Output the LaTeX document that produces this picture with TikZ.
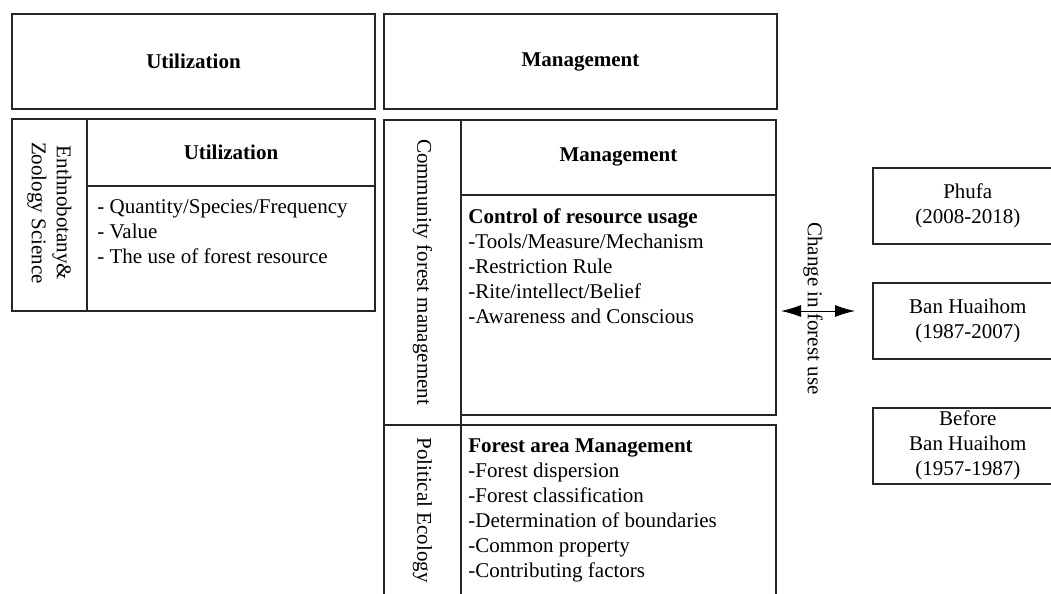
\documentclass[tikz,border=0pt]{standalone}
\usepackage{fontspec}
\setmainfont{Liberation Serif}
\usetikzlibrary{arrows.meta}

\begin{document}
\begin{tikzpicture}[x=0.5pt,y=-0.5pt,
    frame/.style={line width=0.8pt, draw=black!85},
    txt/.style={inner sep=0pt, font=\fontsize{10.5pt}{12.5pt}\selectfont},
    head/.style={txt, font=\fontsize{10.5pt}{12.5pt}\selectfont\bfseries},
    side/.style={txt, rotate=-90, align=center},
    listing/.style={txt, anchor=north west, align=left},
    period/.style={txt, frame, minimum width=95pt, minimum height=38pt,
                   anchor=north west, align=center}]
    \useasboundingbox (0,0) rectangle (1051,594);
    \clip (0,0) rectangle (1051,594);

    % top headers
    \draw[frame] (12,14) rectangle (375,109);
    \draw[frame] (384,14) rectangle (777,109);
    \node[head] (utilA) at (193.5,61.5) {Utilization};
    \node[head] (mgmtA) at (580.5,62) {Management};

    % utilization block
    \draw[frame] (12,119) rectangle (375,311);
    \draw[frame] (87,119) -- (87,311);
    \draw[frame] (87,186) -- (375,186);
    \node[side] (ethno) at (49.5,213) {Enthnobotany\&\\Zoology Science};
    \node[head] (utilB) at (231,152) {Utilization};
    \node[listing] (uselist) at (97,199.5)
        {- Quantity/Species/Frequency\\- Value\\- The use of forest resource};

    % management block
    \draw[frame] (384,120) rectangle (461,425);
    \draw[frame] (461,120) rectangle (776,195);
    \draw[frame] (461,195) rectangle (776,415);
    \draw[frame] (384,425) rectangle (461,620);
    \draw[frame] (461,425) rectangle (776,620);
    \node[side] (cfm) at (422.5,272) {Community forest management};
    \node[side, anchor=west] (poleco) at (422.5,437) {Political Ecology};
    \node[head] (mgmtB) at (618.5,157) {Management};
    \node[listing] (control) at (468,208)
        {\textbf{Control of resource usage}\\-Tools/Measure/Mechanism\\-Restriction Rule\\-Rite/intellect/Belief\\-Awareness and Conscious};
    \node[listing] (forest) at (468,438.5)
        {\textbf{Forest area Management}\\-Forest dispersion\\-Forest classification\\-Determination of boundaries\\-Common property\\-Contributing factors};

    % periods
    \foreach \y/\name/\label in {167/phufa/{Phufa\\(2008-2018)},
                                 282/banhuai/{Ban Huaihom\\(1987-2007)},
                                 407/before/{Before\\Ban Huaihom\\(1957-1987)}}{
        \node[period] (\name) at (872,\y) {\label};
    }

    % change arrow
    \coordinate (chgL) at (781,311);
    \coordinate (chgR) at (855,311);
    \draw[{Latex[length=10pt,width=6pt]}-{Latex[length=10pt,width=6pt]}, line width=0.5pt] (chgL) -- (chgR);
    \node[side] (change) at (813,308.5) {Change in forest use};
\end{tikzpicture}
\end{document}
